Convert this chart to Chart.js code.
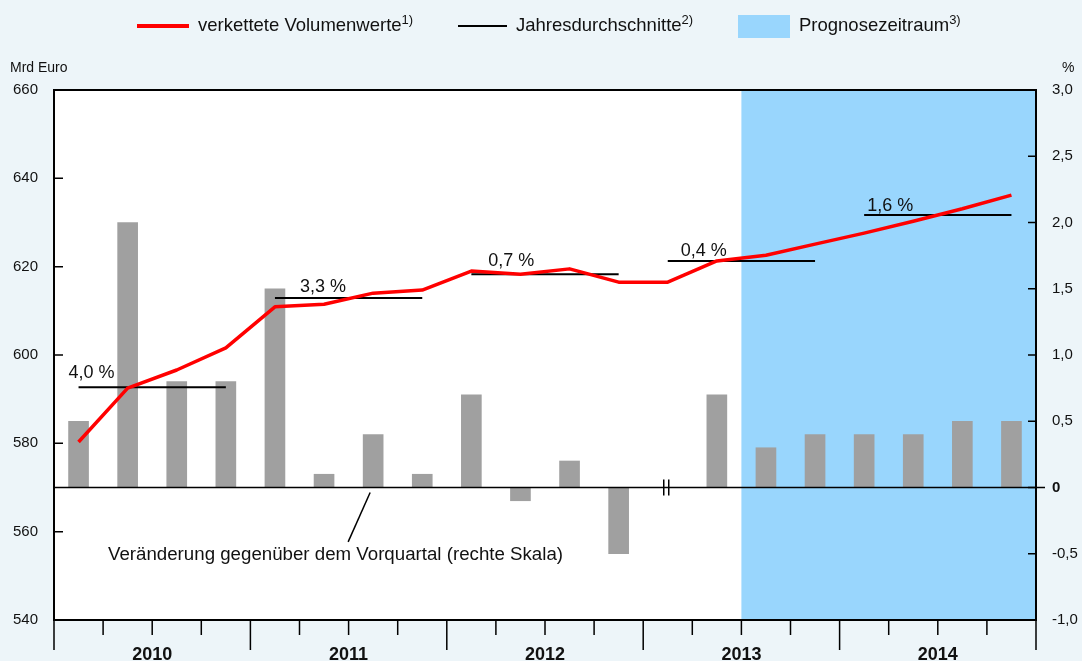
<!DOCTYPE html>
<html>
<head>
<meta charset="utf-8">
<script src="https://cdn.jsdelivr.net/npm/chart.js@4.4.1/dist/chart.umd.min.js"></script>
<style>
html, body { margin: 0; padding: 0; background: #edf5f9; }
#wrap { position: relative; width: 1082px; height: 661px; font-family: "Liberation Sans", Arial, sans-serif; color: #111; }
canvas { position: absolute; left: 0; top: 0; }
.lg { position: absolute; top: 12px; font-size: 18.5px; white-space: nowrap; }
.lg sup { font-size: 13px; vertical-align: 7px; }
.mark { position: absolute; }
.unit { position: absolute; top: 59px; font-size: 14px; }
</style>
</head>
<body>
<div id="wrap">
  <canvas id="chart" width="1082" height="661"></canvas>
  <div class="mark" style="left:137px;top:24px;width:52px;height:4px;background:#ff0000"></div>
  <div class="lg" style="left:198px">verkettete Volumenwerte<sup>1)</sup></div>
  <div class="mark" style="left:458px;top:25px;width:49px;height:2px;background:#000"></div>
  <div class="lg" style="left:516px">Jahresdurchschnitte<sup>2)</sup></div>
  <div class="mark" style="left:738px;top:15px;width:52px;height:23px;background:#99d6fd"></div>
  <div class="lg" style="left:799px">Prognosezeitraum<sup>3)</sup></div>
  <div class="unit" style="left:10px">Mrd Euro</div>
  <div class="unit" style="left:1062px">%</div>
</div>
<script>
const FONT = '"Liberation Sans", Arial, sans-serif';

// data
const quarters = [
  'Q1 2010', 'Q2 2010', 'Q3 2010', 'Q4 2010',
  'Q1 2011', 'Q2 2011', 'Q3 2011', 'Q4 2011',
  'Q1 2012', 'Q2 2012', 'Q3 2012', 'Q4 2012',
  'Q1 2013', 'Q2 2013', 'Q3 2013', 'Q4 2013',
  'Q1 2014', 'Q2 2014', 'Q3 2014', 'Q4 2014'
];
const years = ['2010', '2011', '2012', '2013', '2014'];
const volumenwerte = [580.3, 592.5, 596.6, 601.6, 610.9, 611.5, 614.0, 614.7, 619.0, 618.3,
                      619.5, 616.5, 616.5, 621.3, 622.6, 625.1, 627.6, 630.3, 633.1, 636.2];
const veraenderung = [0.5, 2.0, 0.8, 0.8, 1.5, 0.1, 0.4, 0.1, 0.7, -0.1,
                      0.2, -0.5, null, 0.7, 0.3, 0.4, 0.4, 0.4, 0.5, 0.5];
const jahresdurchschnitte = [592.7, 612.9, 618.3, 621.3, 631.7];
const jahresraten = ['4,0 %', '3,3 %', '0,7 %', '0,4 %', '1,6 %'];
const prognoseStart = 14;   // erstes Quartal im Prognosezeitraum
const bruchQuartal = 12;    // Quartal mit Bruchzeichen
const captionText = 'Veränderung gegenüber dem Vorquartal (rechte Skala)';

const fmtPct = v => v === 0 ? '0' : v.toFixed(1).replace('.', ',');

// boundary between quarter i-1 and i
function boundary(x, a, i) {
  if (i <= 0) return a.left;
  if (i >= quarters.length) return a.right;
  return (x.getPixelForValue(i - 1) + x.getPixelForValue(i)) / 2;
}

const deko = {
  id: 'deko',
  beforeDraw(chart) {
    const { ctx, chartArea: a, scales: { x } } = chart;
    ctx.save();
    ctx.fillStyle = '#fff';
    ctx.fillRect(a.left, a.top, a.right - a.left, a.bottom - a.top);
    const xs = boundary(x, a, prognoseStart);
    ctx.fillStyle = '#99d6fd';
    ctx.fillRect(xs, a.top, a.right - xs, a.bottom - a.top);
    ctx.restore();
  },
  afterDraw(chart) {
    const { ctx, chartArea: a, scales: { x, yL, yR } } = chart;
    ctx.save();
    ctx.strokeStyle = '#000';
    ctx.fillStyle = '#111';

    // zero line
    const y0 = yR.getPixelForValue(0);
    ctx.lineWidth = 1.5;
    ctx.beginPath();
    ctx.moveTo(a.left, y0);
    ctx.lineTo(a.right + 9, y0);
    ctx.stroke();

    // break sign
    const bx = x.getPixelForValue(bruchQuartal);
    ctx.beginPath();
    ctx.moveTo(bx - 4, y0 - 8); ctx.lineTo(bx - 4, y0 + 8);
    ctx.moveTo(bx + 1, y0 - 8); ctx.lineTo(bx + 1, y0 + 8);
    ctx.stroke();

    // frame
    ctx.lineWidth = 2;
    ctx.strokeRect(a.left, a.top, a.right - a.left, a.bottom - a.top);

    // inner ticks
    ctx.lineWidth = 1.5;
    ctx.beginPath();
    yL.ticks.forEach(t => {
      const yy = yL.getPixelForValue(t.value);
      ctx.moveTo(a.left, yy); ctx.lineTo(a.left + 9, yy);
    });
    yR.ticks.forEach(t => {
      const yy = yR.getPixelForValue(t.value);
      ctx.moveTo(a.right - 8, yy); ctx.lineTo(a.right, yy);
    });
    // bottom ticks
    for (let i = 0; i <= quarters.length; i++) {
      const xx = boundary(x, a, i);
      ctx.moveTo(xx, a.bottom);
      ctx.lineTo(xx, a.bottom + (i % 4 === 0 ? 30 : 15));
    }
    ctx.stroke();

    // year labels
    ctx.font = 'bold 18px ' + FONT;
    ctx.textAlign = 'center';
    ctx.textBaseline = 'alphabetic';
    years.forEach((yr, k) => {
      ctx.fillText(yr, boundary(x, a, k * 4 + 2), a.bottom + 40);
    });

    // annual rates
    const dx = [-10, 25, 17, 13, 3];
    const dy = [9, 6, 8, 5, 4];
    ctx.font = '18px ' + FONT;
    ctx.textAlign = 'left';
    jahresraten.forEach((txt, k) => {
      ctx.fillText(txt, x.getPixelForValue(k * 4) + dx[k], yL.getPixelForValue(jahresdurchschnitte[k]) - dy[k]);
    });

    // caption with leader line
    const lx = x.getPixelForValue(6);
    ctx.lineWidth = 1.5;
    ctx.beginPath();
    ctx.moveTo(lx - 3, y0 + 5);
    ctx.lineTo(lx - 25, yR.getPixelForValue(-0.41));
    ctx.stroke();
    ctx.font = '18.7px ' + FONT;
    ctx.fillText(captionText, 108, yR.getPixelForValue(-0.41) + 18);
    ctx.restore();
  }
};

const avgSets = jahresdurchschnitte.map((v, k) => ({
  type: 'line',
  label: 'Jahresdurchschnitt ' + years[k],
  data: quarters.map((_, i) => Math.floor(i / 4) === k ? v : null),
  yAxisID: 'yL',
  borderColor: '#000',
  borderWidth: 2,
  pointRadius: 0,
  order: 1
}));

new Chart(document.getElementById('chart'), {
  data: {
    labels: quarters,
    datasets: [
      {
        type: 'line',
        label: 'verkettete Volumenwerte',
        data: volumenwerte,
        yAxisID: 'yL',
        borderColor: '#ff0000',
        borderWidth: 3.5,
        borderJoinStyle: 'round',
        pointRadius: 0,
        tension: 0,
        order: 0
      },
      ...avgSets,
      {
        type: 'bar',
        label: 'Veränderung gegenüber dem Vorquartal',
        data: veraenderung,
        yAxisID: 'yR',
        backgroundColor: '#a0a0a0',
        barThickness: 20,
        order: 2
      }
    ]
  },
  options: {
    responsive: false,
    devicePixelRatio: 1,
    animation: false,
    layout: { padding: { top: 90, left: 0, right: 0, bottom: 0 } },
    plugins: { legend: { display: false }, tooltip: { enabled: false } },
    scales: {
      x: {
        type: 'category',
        offset: true,
        grid: { display: false },
        border: { display: false },
        ticks: { display: false },
        afterFit: s => { s.height = 41; }
      },
      yL: {
        position: 'left',
        min: 540, max: 660,
        grid: { display: false, drawTicks: false },
        border: { display: false },
        ticks: { stepSize: 20, color: '#111', padding: 16, font: { size: 15, family: FONT } },
        afterFit: s => { s.width = 54; }
      },
      yR: {
        position: 'right',
        min: -1, max: 3,
        grid: { display: false, drawTicks: false },
        border: { display: false },
        ticks: {
          stepSize: 0.5,
          color: '#111',
          padding: 16,
          callback: v => fmtPct(v),
          font: c => ({ size: 15, family: FONT, weight: c.tick && c.tick.value === 0 ? 'bold' : 'normal' })
        },
        afterFit: s => { s.width = 46; }
      }
    }
  },
  plugins: [deko]
});
</script>
</body>
</html>
